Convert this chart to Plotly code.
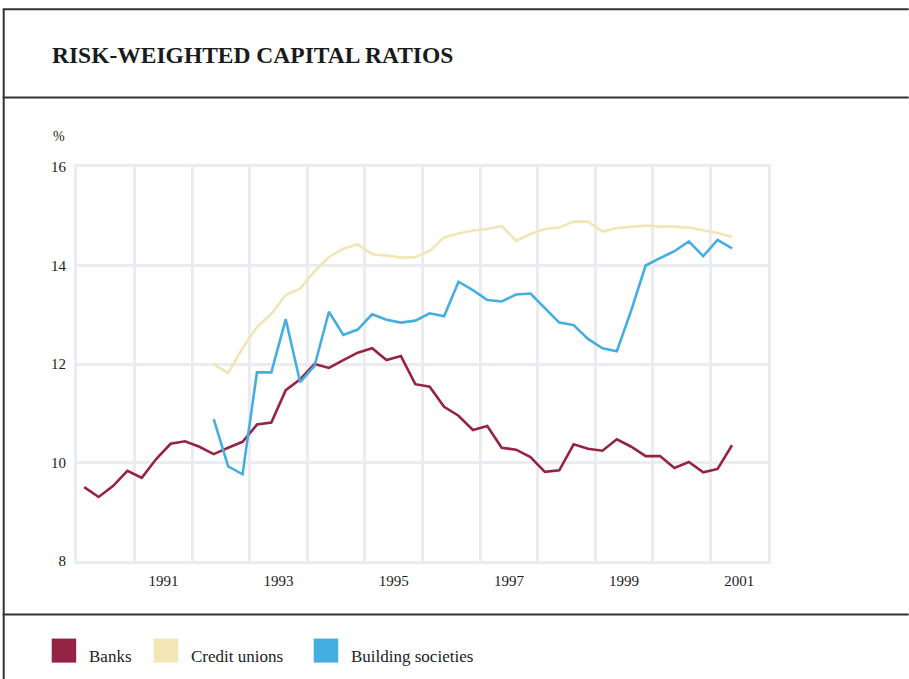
import plotly.graph_objects as go

# ---------------- data ----------------
quarters = [f"{1990 + i // 4} Q{i % 4 + 1}" for i in range(46)]  # 1990 Q1 .. 2001 Q2

banks = [9.50, 9.30, 9.52, 9.83, 9.69, 10.07, 10.38, 10.43, 10.32, 10.17,
         10.30, 10.42, 10.77, 10.81, 11.47, 11.69, 12.00, 11.92, 12.08, 12.23,
         12.32, 12.08, 12.16, 11.59, 11.54, 11.13, 10.95, 10.66, 10.74, 10.30,
         10.26, 10.11, 9.81, 9.84, 10.37, 10.28, 10.24, 10.47, 10.32, 10.13,
         10.13, 9.89, 10.01, 9.80, 9.87, 10.35]

credit_unions = [11.99, 11.82, 12.32, 12.75, 13.02, 13.40, 13.53, 13.88, 14.17, 14.34,
                 14.43, 14.23, 14.20, 14.16, 14.17, 14.30, 14.57, 14.65, 14.71, 14.74,
                 14.80, 14.50, 14.64, 14.74, 14.77, 14.89, 14.89, 14.69, 14.76, 14.79,
                 14.81, 14.79, 14.79, 14.77, 14.72, 14.66, 14.58]

building_societies = [10.88, 9.92, 9.76, 11.83, 11.83, 12.91, 11.63, 11.96, 13.06, 12.59,
                      12.70, 13.01, 12.90, 12.84, 12.88, 13.03, 12.97, 13.67, 13.50, 13.30,
                      13.27, 13.41, 13.43, 13.13, 12.84, 12.79, 12.51, 12.32, 12.26, 13.09,
                      14.00, 14.15, 14.29, 14.49, 14.19, 14.52, 14.35]

x_tick_labels = ["1991", "1993", "1995", "1997", "1999", "2001"]
y_ticks = [8, 10, 12, 14, 16]

series_names = ["Banks", "Credit unions", "Building societies"]
series_colors = ["#952444", "#f2e5b6", "#45aee0"]


def q_to_year(q):
    y, n = q.split(" Q")
    return int(y) + (int(n) - 1) * 0.25 + 0.125


x_all = [q_to_year(q) for q in quarters]
x_banks = x_all
x_cu = x_all[-len(credit_unions):]
x_bs = x_all[-len(building_societies):]

# ---------------- geometry (pixels) ----------------
W, H = 909, 679
L, R, T, B = 77.3, 768.3, 167.4, 560.6
pw, ph = R - L, B - T


def px(x):
    return (x - L) / pw


def py(y):
    return (B - y) / ph


SERIF = "Liberation Serif, Times New Roman, serif"
GRID = "#ebebf2"

fig = go.Figure()
for name, xs, ys, col in [("Banks", x_banks, banks, series_colors[0]),
                          ("Credit unions", x_cu, credit_unions, series_colors[1]),
                          ("Building societies", x_bs, building_societies, series_colors[2])]:
    fig.add_trace(go.Scatter(x=xs, y=ys, mode="lines", name=name,
                             line=dict(color=col, width=2.6),
                             showlegend=False))

fig.update_layout(
    width=W, height=H,
    margin=dict(l=L, r=W - R, t=T, b=H - B, pad=0),
    paper_bgcolor="white", plot_bgcolor="white",
    font=dict(family=SERIF, color="#222222", size=14),
    title=dict(text="<b>RISK-WEIGHTED CAPITAL RATIOS</b>",
               x=52 / W, xref="container", xanchor="left",
               y=1 - 55 / H, yref="container", yanchor="middle",
               font=dict(family=SERIF, size=23.5, color="#1a1a1a")),
    xaxis=dict(range=[1990, 2002], tickvals=[int(t) + 0.5 for t in x_tick_labels],
               ticktext=x_tick_labels, showgrid=False, zeroline=False,
               ticks="", ticklabelstandoff=4,
               tickfont=dict(size=15, family=SERIF, color="#222"),
               showline=True, mirror=True, linecolor=GRID, linewidth=3,
               minor=dict(tickvals=list(range(1990, 2003)), showgrid=True,
                          gridcolor=GRID, gridwidth=3, ticks="")),
    yaxis=dict(range=[8, 16], tickvals=y_ticks, showgrid=True, gridcolor=GRID,
               gridwidth=3, zeroline=False, ticks="", ticklabelstandoff=5,
               tickfont=dict(size=15, family=SERIF, color="#222"),
               showline=True, mirror=True, linecolor=GRID, linewidth=3),
)

# frame rules
rule = dict(color="#333333", width=2)
shapes = [
    dict(type="line", xref="paper", yref="paper", x0=px(3), x1=px(909), y0=py(10), y1=py(10), line=rule),
    dict(type="line", xref="paper", yref="paper", x0=px(3), x1=px(909), y0=py(98), y1=py(98), line=rule),
    dict(type="line", xref="paper", yref="paper", x0=px(3), x1=px(909), y0=py(614), y1=py(614), line=rule),
    dict(type="line", xref="paper", yref="paper", x0=px(4), x1=px(4), y0=py(10), y1=py(680), line=rule),
]

# legend swatches + labels
legend_items = [(52, 87), (154, 189), (314, 349)]
annotations = []
for (sx, tx), name, col in zip(legend_items, series_names, series_colors):
    shapes.append(dict(type="rect", xref="paper", yref="paper",
                       x0=px(sx), x1=px(sx + 24.5), y0=py(662), y1=py(638),
                       fillcolor=col, line=dict(width=0)))
    annotations.append(dict(text=name, xref="paper", yref="paper",
                            x=px(tx), y=py(656), xanchor="left", yanchor="middle",
                            showarrow=False, font=dict(family=SERIF, size=17, color="#222")))

annotations.append(dict(text="%", xref="paper", yref="paper", x=px(51), y=py(137),
                        xanchor="left", yanchor="middle", showarrow=False,
                        font=dict(family=SERIF, size=14, color="#222")))

fig.update_layout(shapes=shapes, annotations=annotations)

fig.write_html("out.html", config={"displayModeBar": False},
               post_script="document.body.style.margin='0';document.body.style.overflow='hidden';")
